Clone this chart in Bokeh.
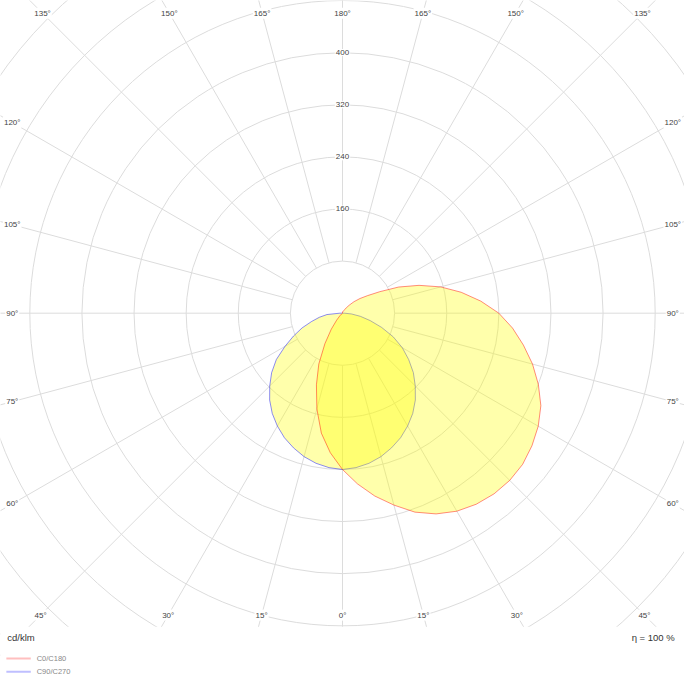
import numpy as np
from bokeh.plotting import figure
from bokeh.models import Range1d
from bokeh.embed import file_html
from bokeh.resources import INLINE
from bokeh.core.properties import value

# ---- data (cd/klm) ----
gamma = list(range(0, 181, 5))
c0 = [240, 263, 285, 305, 325, 340, 351, 358, 362, 363, 361, 355, 347, 336, 320,
      302, 282, 262, 240, 213, 185, 156, 125, 95, 66, 47, 35, 25, 16, 10, 6, 4, 3,
      2, 2, 2, 2]
c180 = [240, 215, 187, 152, 117, 86, 54, 30, 14, 6, 2, 0, 0, 0, 0, 0, 0, 0, 0,
        0, 0, 0, 0, 0, 0, 0, 0, 0, 0, 0, 0, 0, 0, 0, 0, 0, 2]
c90 = [240, 238, 234, 228, 220, 211, 200, 188, 174, 158, 142, 124, 106, 86, 64,
       44, 28, 14, 3, 0, 0, 0, 0, 0, 0, 0, 0, 0, 0, 0, 0, 0, 0, 0, 0, 0, 0]
c270 = [240, 238, 234, 228, 220, 211, 200, 188, 174, 158, 142, 124, 102, 83, 66,
        49, 36, 24, 4, 0, 0, 0, 0, 0, 0, 0, 0, 0, 0, 0, 0, 0, 0, 0, 0, 0, 0]
ring_values = [80, 160, 240, 320, 400, 480, 560, 640, 720, 800]
ring_labels = [160, 240, 320, 400]
angle_ticks = list(range(0, 181, 15))
unit_text = "cd/klm"
eta_text = "η = 100 %"
legend_names = ["C0/C180", "C90/C270"]

# ---- geometry ----
W, H = 684, 684
K = W / 700.0                 # fit the 700 px design into 684 px
S = 1.5 / K                   # cd per figure pixel
CXP, CYP = 350 * K, 320 * K   # centre in figure pixels
x0, x1 = -CXP * S, (W - CXP) * S
y1, y0 = CYP * S, -(H - CYP) * S
CLIP_Y = -480                 # bottom of the polar area

p = figure(width=W, height=H, x_range=Range1d(x0, x1), y_range=Range1d(y0, y1),
           output_backend="svg", toolbar_location=None, min_border=0,
           x_axis_location=None, y_axis_location=None,
           outline_line_color=None, background_fill_color="white",
           border_fill_color="white")
p.xgrid.grid_line_color = None
p.ygrid.grid_line_color = None

GRID = "#dcdcdc"
# rings
p.circle(x=[0] * len(ring_values), y=[0] * len(ring_values), radius=ring_values,
         fill_color=None, line_color=GRID, line_width=1)
# radial lines every 15 degrees, starting at the innermost ring
ang = np.radians(np.arange(0, 360, 15))
r_in, r_out = ring_values[0], 1200
p.segment(x0=r_in * np.sin(ang), y0=-r_in * np.cos(ang),
          x1=r_out * np.sin(ang), y1=-r_out * np.cos(ang),
          line_color=GRID, line_width=1)

# ---- curves ----
g = np.radians(np.array(gamma))
def closed(right, left):
    right = np.array(right, float)
    left = np.array(left, float)
    xs = np.concatenate([right * np.sin(g), (-left * np.sin(g))[::-1]])
    ys = np.concatenate([-right * np.cos(g), (-left * np.cos(g))[::-1]])
    return xs, ys

bx, by = closed(c90, c270)
rx, ry = closed(c0, c180)
p.patch(bx, by, fill_color="#ffff00", fill_alpha=0.33,
        line_color="blue", line_alpha=0.45, line_width=1)
p.patch(rx, ry, fill_color="#ffff00", fill_alpha=0.33,
        line_color="red", line_alpha=0.45, line_width=1)

# cover below polar area
p.quad(left=x0 - 20, right=x1 + 20, top=CLIP_Y - 1.5, bottom=y0 - 20,
       fill_color="white", line_color=None)

FONT = value("Liberation Sans")
# ring value labels
p.text(x=[0] * len(ring_labels), y=ring_labels, text=[str(v) for v in ring_labels],
       text_font=FONT, text_font_size="8px", text_color="#444444",
       text_align="center", text_baseline="middle",
       background_fill_color="white", padding=1)

# angle labels on an inner rectangle (data units)
XB, YT, YBOT = 507.0, 460.5, 463.5
def label_pos(deg, side):
    dx = side * np.sin(np.radians(deg))
    dy = -np.cos(np.radians(deg))
    ts = []
    if abs(dx) > 1e-9:
        ts.append(XB / abs(dx))
    if dy > 1e-9:
        ts.append(YT / dy)
    if dy < -1e-9:
        ts.append(YBOT / -dy)
    t = min(ts)
    return dx * t, dy * t

lx, ly, lt = [], [], []
for d in angle_ticks:
    for side in (1, -1):
        if side == -1 and d in (0, 180):
            continue
        xx, yy = label_pos(d, side)
        lx.append(xx); ly.append(yy); lt.append(f"{d}°")
p.text(x=lx, y=ly, text=lt, text_font=FONT, text_font_size="8px",
       text_color="#444444", text_align="center", text_baseline="middle",
       background_fill_color="white", padding=1)

# unit and efficiency
ty = -498
p.text(x=[-514.5], y=[ty], text=[unit_text], text_font=FONT,
       text_font_size="9.5px", text_color="#333333", text_align="left",
       text_baseline="middle")
p.text(x=[510], y=[ty], text=[eta_text], text_font=FONT,
       text_font_size="9.5px", text_color="#333333", text_align="right",
       text_baseline="middle")

# legend
leg_y = [-530, -550.5]
leg_colors = ["red", "blue"]
p.segment(x0=[-516] * 2, y0=leg_y, x1=[-478.5] * 2, y1=leg_y,
          line_color=leg_colors, line_alpha=0.25, line_width=2)
p.text(x=[-469.5] * 2, y=leg_y, text=legend_names, text_font=FONT,
       text_font_size="7.5px", text_color="#888888", text_align="left",
       text_baseline="middle")

open("out.html", "w").write(file_html(p, INLINE))
